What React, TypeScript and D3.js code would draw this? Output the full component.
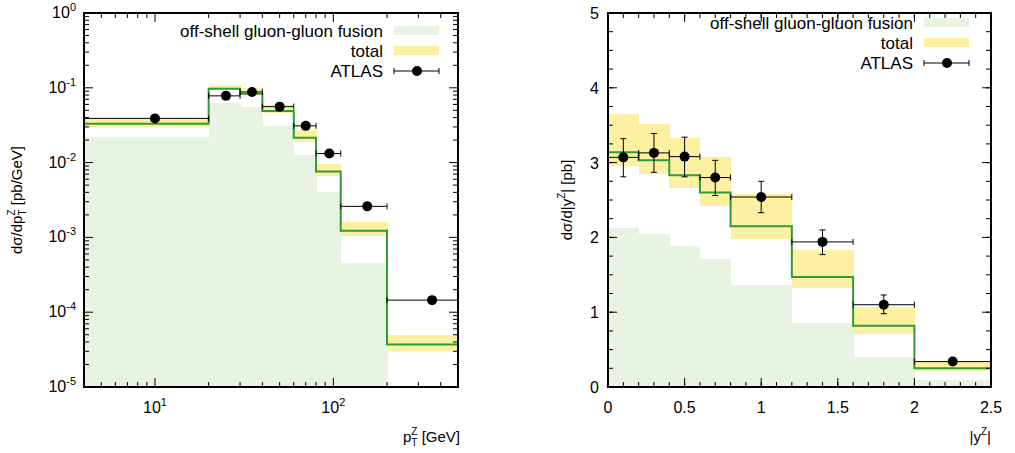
import React from "react";
import * as d3 from "d3";

// left panel: pT^Z
const ptEdges = [4, 20, 30, 40, 60, 80, 110, 200, 500];
const ptTotal = [0.033, 0.097, 0.083, 0.049, 0.0215, 0.0076, 0.00123, 3.7e-5];
const ptTotalHi = [0.04, 0.11, 0.1, 0.058, 0.027, 0.0097, 0.0016, 5e-5];
const ptTotalLo = [0.03, 0.095, 0.079, 0.046, 0.019, 0.0067, 0.00103, 3.0e-5];
const ptGG = [0.022, 0.063, 0.056, 0.031, 0.0128, 0.004, 0.00045, 1e-6];
const ptAtlasX = [10, 25, 35, 50, 70, 95, 155, 358];
const ptAtlasY = [0.039, 0.078, 0.088, 0.056, 0.031, 0.0132, 0.0026, 1.45e-4];

// right panel: |y^Z|
const yEdges = [0, 0.2, 0.4, 0.6, 0.8, 1.2, 1.6, 2.0, 2.5];
const yTotal = [3.14, 3.03, 2.83, 2.6, 2.15, 1.47, 0.82, 0.25];
const yTotalHi = [3.65, 3.52, 3.33, 3.07, 2.58, 1.83, 1.07, 0.34];
const yTotalLo = [2.95, 2.85, 2.66, 2.42, 1.98, 1.33, 0.71, 0.22];
const yGG = [2.13, 2.04, 1.89, 1.71, 1.36, 0.86, 0.4, 0.1];
const yAtlasX = [0.1, 0.3, 0.5, 0.7, 1.0, 1.4, 1.8, 2.25];
const yAtlasY = [3.07, 3.13, 3.08, 2.8, 2.54, 1.94, 1.1, 0.34];
const yAtlasHi = [3.32, 3.39, 3.34, 3.03, 2.75, 2.1, 1.23, 0.36];
const yAtlasLo = [2.81, 2.87, 2.81, 2.56, 2.33, 1.77, 0.98, 0.32];

const GG = "#e8f3e2";
const YEL = "#fdf0a0";
const GRN = "#2e9a3a";
const FONT = "Liberation Sans, Arial, sans-serif";

function Panel({ x, y, edges, total, hi, lo, gg, ax, ay, aHi, aLo, legendX }: any) {
  const n = total.length;
  const step = [] as [number, number][];
  for (let i = 0; i < n; i++) {
    step.push([x(edges[i]), y(total[i])]);
    step.push([x(edges[i + 1]), y(total[i])]);
  }
  const [x0, x1] = x.range();
  const [y0, y1] = y.range();
  return (
    <g>
      <defs>
        <clipPath id={"c" + legendX}>
          <rect x={x0} y={y1} width={x1 - x0} height={y0 - y1} />
        </clipPath>
      </defs>
      <g clipPath={`url(#c${legendX})`}>
        <g shapeRendering="crispEdges">
          {gg.map((v: number, i: number) => (
            <rect key={"g" + i} x={x(edges[i])} width={x(edges[i + 1]) - x(edges[i]) + 0.5} y={y(v)} height={y0 - y(v)} fill={GG} />
          ))}
          {hi.map((v: number, i: number) => (
            <rect key={"y" + i} x={x(edges[i])} width={x(edges[i + 1]) - x(edges[i]) + 0.5} y={y(v)} height={y(lo[i]) - y(v)} fill={YEL} />
          ))}
        </g>
        <path d={d3.line()(step) || ""} fill="none" stroke={GRN} strokeWidth={2} />
        {ax.map((v: number, i: number) => (
          <g key={"a" + i} stroke="#000" strokeWidth={1}>
            <line x1={x(edges[i])} x2={x(edges[i + 1])} y1={y(ay[i])} y2={y(ay[i])} />
            <line x1={x(edges[i])} x2={x(edges[i])} y1={y(ay[i]) - 3} y2={y(ay[i]) + 3} />
            <line x1={x(edges[i + 1])} x2={x(edges[i + 1])} y1={y(ay[i]) - 3} y2={y(ay[i]) + 3} />
            {aHi && (
              <>
                <line x1={x(v)} x2={x(v)} y1={y(aHi[i])} y2={y(aLo[i])} />
                <line x1={x(v) - 3} x2={x(v) + 3} y1={y(aHi[i])} y2={y(aHi[i])} />
                <line x1={x(v) - 3} x2={x(v) + 3} y1={y(aLo[i])} y2={y(aLo[i])} />
              </>
            )}
            <circle cx={x(v)} cy={y(ay[i])} r={5} fill="#000" stroke="none" />
          </g>
        ))}
      </g>
    </g>
  );
}

function Legend({ tx, top }: { tx: number; top: number }) {
  const rows = ["off-shell gluon-gluon fusion", "total", "ATLAS"];
  return (
    <g fontFamily={FONT} fontSize={17}>
      {rows.map((r, i) => (
        <text key={r} x={tx} y={top + i * 20 + 6} textAnchor="end">{r}</text>
      ))}
      <rect x={tx + 11} y={top - 5} width={45} height={9} fill={GG} />
      <rect x={tx + 11} y={top + 15} width={45} height={9} fill={YEL} />
      <g stroke="#000">
        <line x1={tx + 11} x2={tx + 56} y1={top + 40} y2={top + 40} />
        <line x1={tx + 11} x2={tx + 11} y1={top + 37} y2={top + 43} />
        <line x1={tx + 56} x2={tx + 56} y1={top + 37} y2={top + 43} />
      </g>
      <circle cx={tx + 34} cy={top + 40} r={5} />
    </g>
  );
}

export default function App() {
  const T = 13, B = 387;
  const xL = d3.scaleLog().domain([4, 500]).range([84, 458]);
  const yL = d3.scaleLog().domain([1e-5, 1]).range([B, T]);
  const xR = d3.scaleLinear().domain([0, 2.5]).range([608, 991]);
  const yR = d3.scaleLinear().domain([0, 5]).range([B, T]);

  const lxMinor = [5, 6, 7, 8, 9, 20, 30, 40, 50, 60, 70, 80, 90, 200, 300, 400];
  const lyMinor: number[] = [];
  for (let e = -5; e < 0; e++) for (let k = 2; k <= 9; k++) lyMinor.push(k * 10 ** e);
  const rxMinor = d3.range(0, 2.5001, 0.1);
  const ryMinor = d3.range(0, 5.001, 0.25);

  const frame = (x: any, y: any) => {
    const [a, b] = x.range();
    const [c, d] = y.range();
    return <rect x={a} y={d} width={b - a} height={c - d} fill="none" stroke="#000" strokeWidth={2} />;
  };
  const xt = (x: any, y: any, v: number[], len: number) =>
    v.map((t, i) => (
      <g key={"xt" + len + i} stroke="#000">
        <line x1={x(t)} x2={x(t)} y1={y.range()[0]} y2={y.range()[0] - len} />
        <line x1={x(t)} x2={x(t)} y1={y.range()[1]} y2={y.range()[1] + len} />
      </g>
    ));
  const yt = (x: any, y: any, v: number[], len: number) =>
    v.map((t, i) => (
      <g key={"yt" + len + i} stroke="#000">
        <line x1={x.range()[0]} x2={x.range()[0] + len} y1={y(t)} y2={y(t)} />
        <line x1={x.range()[1]} x2={x.range()[1] - len} y1={y(t)} y2={y(t)} />
      </g>
    ));

  const decades = [-5, -4, -3, -2, -1, 0];
  const rxMajor = [0, 0.5, 1, 1.5, 2, 2.5];
  const ryMajor = [0, 1, 2, 3, 4, 5];

  return (
    <svg width={1015} height={453} style={{ position: "absolute", left: 0, top: 0 }} fontFamily={FONT}>
      <rect width={1015} height={453} fill="#fff" />
      <Panel x={xL} y={yL} edges={ptEdges} total={ptTotal} hi={ptTotalHi} lo={ptTotalLo} gg={ptGG} ax={ptAtlasX} ay={ptAtlasY} legendX={1} />
      <Panel x={xR} y={yR} edges={yEdges} total={yTotal} hi={yTotalHi} lo={yTotalLo} gg={yGG} ax={yAtlasX} ay={yAtlasY} aHi={yAtlasHi} aLo={yAtlasLo} legendX={2} />
      {xt(xL, yL, lxMinor, 5)}
      {xt(xL, yL, [10, 100], 9)}
      {yt(xL, yL, lyMinor, 5)}
      {yt(xL, yL, decades.map((e) => 10 ** e), 9)}
      {xt(xR, yR, rxMinor, 5)}
      {xt(xR, yR, rxMajor, 9)}
      {yt(xR, yR, ryMinor, 5)}
      {yt(xR, yR, ryMajor, 9)}
      {frame(xL, yL)}
      {frame(xR, yR)}
      <Legend tx={383} top={31} />
      <Legend tx={913} top={23} />
      <g fontSize={16}>
        {[10, 100].map((t) => (
          <text key={t} x={xL(t)} y={413} textAnchor="middle">
            10<tspan dy={-7} fontSize={11}>{t === 10 ? 1 : 2}</tspan>
          </text>
        ))}
        {decades.map((e) => (
          <text key={e} x={76} y={yL(10 ** e) + 5} textAnchor="end">
            10<tspan dy={-7} fontSize={11}>{e}</tspan>
          </text>
        ))}
        {rxMajor.map((t) => (
          <text key={t} x={xR(t)} y={413} textAnchor="middle">{t}</text>
        ))}
        {ryMajor.map((t) => (
          <text key={t} x={599} y={yR(t) + 6} textAnchor="end">{t}</text>
        ))}
        <g fontSize={15}>
          <text x={460} y={442} textAnchor="end">
            p<tspan dy={4} fontSize={10}>T</tspan><tspan dy={-11} dx={-6} fontSize={10}>Z</tspan><tspan dy={7}> [GeV]</tspan>
          </text>
          <text x={991} y={442} textAnchor="end">
            |y<tspan dy={-7} fontSize={10}>Z</tspan><tspan dy={7}>|</tspan>
          </text>
          <text transform="translate(22,200) rotate(-90)" textAnchor="middle">
            dσ/dp<tspan dy={4} fontSize={10}>T</tspan><tspan dy={-11} dx={-6} fontSize={10}>Z</tspan><tspan dy={7}> [pb/GeV]</tspan>
          </text>
          <text transform="translate(572,200) rotate(-90)" textAnchor="middle">
            dσ/d|y<tspan dy={-7} fontSize={10}>Z</tspan><tspan dy={7}>| [pb]</tspan>
          </text>
        </g>
      </g>
    </svg>
  );
}
